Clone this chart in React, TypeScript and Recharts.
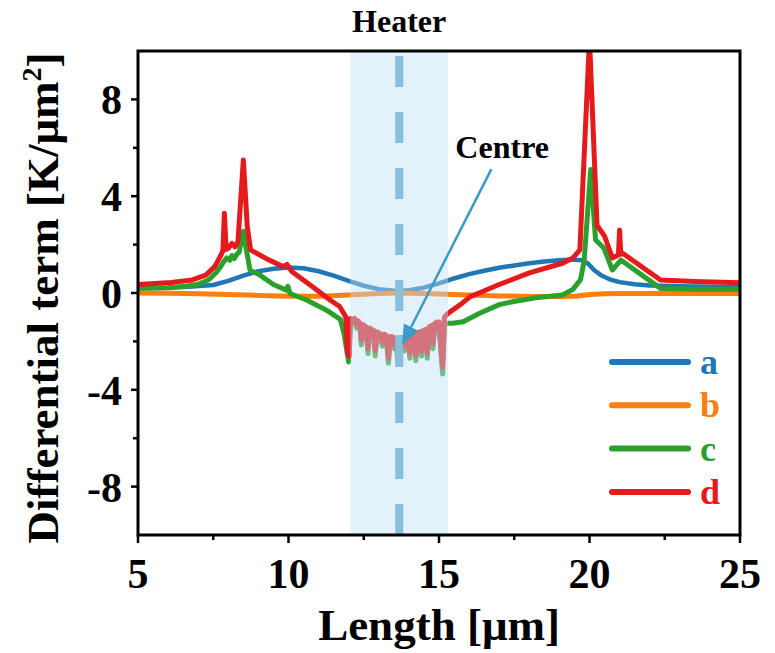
import React from 'react';
import { LineChart, Line, XAxis, YAxis, ReferenceArea, ReferenceLine, Legend } from 'recharts';

const SERIF = 'Liberation Serif, DejaVu Serif, serif';

// Series a
const aLength = [5, 6, 6.8, 7.5, 8, 8.5, 9, 9.5, 10, 10.5, 11, 11.5, 12, 12.5, 13, 13.5, 13.7, 14, 14.5, 15, 15.5, 16, 16.5, 17, 17.5, 18, 18.5, 19, 19.4, 19.75, 19.95, 20.15, 20.4, 20.7, 21, 21.5, 22, 23, 24, 25];
const aValue = [0.2, 0.22, 0.27, 0.33, 0.5, 0.72, 0.9, 1.0, 1.05, 1.02, 0.9, 0.72, 0.5, 0.3, 0.16, 0.09, 0.08, 0.11, 0.22, 0.4, 0.6, 0.78, 0.92, 1.04, 1.14, 1.23, 1.3, 1.35, 1.38, 1.35, 1.22, 0.95, 0.72, 0.55, 0.45, 0.36, 0.31, 0.28, 0.26, 0.25];

// Series b
const bLength = [5, 6, 7, 8, 9, 10, 11, 12, 12.5, 13, 13.7, 14.5, 15, 16, 17, 18, 19, 19.6, 20, 20.5, 21, 22, 23, 24, 25];
const bValue = [0, -0.01, -0.03, -0.06, -0.1, -0.13, -0.13, -0.08, -0.05, -0.02, 0, -0.02, -0.04, -0.08, -0.12, -0.14, -0.14, -0.12, -0.06, -0.03, -0.02, -0.02, -0.02, -0.02, -0.02];

// Series c
const cLength = [
  5, 6, 6.6, 7, 7.35, 7.6, 7.75, 7.85, 7.95, 8.05, 8.12, 8.2, 8.28, 8.36, 8.5, 8.62, 8.72, 9.05, 9.5, 9.93, 9.98, 10.05, 10.6, 11.25, 11.72, 11.84, 12.0,
  12.06, 12.12, 12.2, 12.26, 12.31, 12.37, 12.42, 12.47, 12.53, 12.58, 12.64, 12.7, 12.76, 12.83, 12.88, 12.94, 13.0, 13.06, 13.12, 13.18, 13.25, 13.32, 13.38, 13.45, 13.52, 13.58, 13.64, 13.7, 13.78, 13.84, 13.9, 13.97, 14.03, 14.1, 14.17, 14.23, 14.3, 14.36, 14.42, 14.48, 14.55, 14.61, 14.67, 14.74, 14.8, 14.86, 14.92, 15.0, 15.06, 15.12, 15.18, 15.3,
  15.45, 15.8, 16.35, 17.0, 17.45, 18.2, 19.1, 19.45, 19.7, 19.82, 20.04, 20.2, 20.48, 20.76, 21.04, 22.36, 23.5, 25,
];
const cValue = [
  0.2, 0.22, 0.28, 0.36, 0.55, 0.85, 1.1, 1.3, 1.45, 1.35, 1.55, 1.42, 1.6, 1.68, 2.55, 1.65, 0.95, 0.74, 0.35, 0.12, 0.28, -0.02, -0.29, -0.7, -1.09, -1.65, -2.85,
  -1.15, -1.2, -1.15, -1.45, -1.3, -1.4, -2.15, -1.45, -1.5, -1.55, -2.5, -1.6, -1.65, -1.7, -2.6, -1.75, -1.8, -1.85, -2.2, -1.85, -1.9, -2.9, -1.95, -1.95, -2.3, -2.0, -2.95, -2.0, -2.0, -2.4, -1.95, -1.9, -2.7, -1.85, -1.85, -2.8, -1.8, -1.75, -2.6, -1.7, -1.65, -2.7, -1.55, -1.5, -2.3, -1.4, -1.35, -1.35, -2.4, -3.35, -1.3, -1.25,
  -1.25, -1.19, -0.84, -0.48, -0.36, -0.2, -0.08, 0.15, 0.55, 1.3, 5.1, 2.2, 1.85, 0.95, 1.36, 0.19, 0.16, 0.15,
];

// Series d
const dLength = [
  5, 6.1, 6.8, 7.25, 7.55, 7.75, 7.82, 7.87, 7.93, 8.0, 8.12, 8.22, 8.32, 8.5, 8.63, 8.74, 9.25, 9.82, 9.95, 10.12, 10.8, 11.38, 11.7, 11.9, 11.96, 12.02,
  12.06, 12.12, 12.2, 12.26, 12.31, 12.37, 12.42, 12.47, 12.53, 12.58, 12.64, 12.7, 12.76, 12.83, 12.88, 12.94, 13.0, 13.06, 13.12, 13.18, 13.25, 13.32, 13.38, 13.45, 13.52, 13.58, 13.64, 13.7, 13.78, 13.84, 13.9, 13.97, 14.03, 14.1, 14.17, 14.23, 14.3, 14.36, 14.42, 14.48, 14.55, 14.61, 14.67, 14.74, 14.8, 14.86, 14.92, 15.0, 15.06, 15.12, 15.18, 15.25,
  15.38, 15.76, 16.04, 16.37, 17.0, 18.0, 19.1, 19.45, 19.68, 20.0, 20.25, 20.5, 20.76, 20.96, 21.0, 21.04, 21.1, 22.36, 23.5, 25,
];
const dValue = [
  0.35, 0.43, 0.54, 0.74, 1.09, 1.55, 1.75, 3.3, 1.8, 1.85, 2.05, 1.91, 2.1, 5.5, 2.74, 1.78, 1.43, 1.09, 1.18, 0.88, 0.26, -0.29, -0.56, -0.98, -2.5, -2.6,
  -1.05, -1.1, -1.05, -1.3, -1.15, -1.25, -1.95, -1.3, -1.35, -1.4, -2.3, -1.45, -1.5, -1.55, -2.4, -1.6, -1.65, -1.7, -2.05, -1.7, -1.75, -2.7, -1.8, -1.8, -2.15, -1.85, -2.8, -1.85, -1.85, -2.25, -1.8, -1.75, -2.5, -1.7, -1.7, -2.6, -1.65, -1.6, -2.4, -1.55, -1.5, -2.5, -1.4, -1.35, -2.1, -1.25, -1.2, -1.2, -2.2, -3.05, -1.0, -0.9,
  -0.77, -0.43, -0.15, 0.02, 0.35, 0.83, 1.23, 1.45, 1.78, 10.5, 2.8, 2.35, 1.45, 1.57, 2.6, 1.6, 1.64, 0.54, 0.48, 0.42,
];

const seriesNames = ['a', 'b', 'c', 'd'];
const seriesColors = ['#1f77b4', '#ff7f0e', '#2ca02c', '#e41a1c'];
const seriesLengths = [aLength, bLength, cLength, dLength];
const seriesValues = [aValue, bValue, cValue, dValue];

const xTicks = [5, 7.5, 10, 12.5, 15, 17.5, 20, 22.5, 25];
const yTicks = [-8, -6, -4, -2, 0, 2, 4, 6, 8];
const xDomain = [5, 25];
const yDomain = [-10, 10];

const heaterSpan = [12.05, 15.3];
const heaterCentre = 13.68;
const arrowFrom = { x: 16.74, y: 5.12 };
const arrowTo = { x: 13.77, y: -2.15 };

const toPoints = (xs: number[], ys: number[]) => xs.map((x, i) => ({ x, y: ys[i] }));

const textStyle = { fontFamily: SERIF, fontWeight: 700 } as React.CSSProperties;

const XTick = (props: any) => {
  const { x, y, payload } = props;
  const v = payload.value;
  const major = v % 5 === 0;
  return (
    <g>
      <line x1={x} x2={x} y1={y} y2={y + (major ? 8 : 5)} stroke="#000" strokeWidth={2.5} />
      {major && (
        <text x={x} y={y + 53} textAnchor="middle" style={{ ...textStyle, fontSize: 42 }} fill="#000">
          {v}
        </text>
      )}
    </g>
  );
};

const YTick = (props: any) => {
  const { x, y, payload } = props;
  const v = payload.value;
  const major = v % 4 === 0;
  return (
    <g>
      <line x1={x} x2={x - (major ? 7 : 5)} y1={y} y2={y} stroke="#000" strokeWidth={2.5} />
      {major && (
        <text x={x - 16} y={y + 15} textAnchor="end" style={{ ...textStyle, fontSize: 42 }} fill="#000">
          {v}
        </text>
      )}
    </g>
  );
};

const YLabel = (props: any) => {
  const vb = props.viewBox || { x: 0, y: 51, width: 138, height: 484 };
  const cx = 58;
  const cy = vb.y + vb.height / 2 + 5;
  return (
    <text
      x={cx}
      y={cy}
      transform={`rotate(-90, ${cx}, ${cy})`}
      textAnchor="middle"
      style={{ ...textStyle, fontSize: 45 }}
      fill="#000"
    >
      Differential term [K/μm
      <tspan dy={-17} style={{ fontSize: 28 }}>2</tspan>
      <tspan dy={17}>]</tspan>
    </text>
  );
};

const XLabel = (props: any) => {
  const vb = props.viewBox || { x: 138, y: 535, width: 602, height: 118 };
  return (
    <text
      x={vb.x + vb.width / 2}
      y={vb.y + 105}
      textAnchor="middle"
      style={{ ...textStyle, fontSize: 45 }}
      fill="#000"
    >
      Length [μm]
    </text>
  );
};

const HeaterLabel = (props: any) => {
  const vb = props.viewBox;
  if (!vb) return null;
  return (
    <text x={vb.x + vb.width / 2} y={vb.y - 19} textAnchor="middle" style={{ ...textStyle, fontSize: 32 }} fill="#000">
      Heater
    </text>
  );
};

const ArrowShape = (props: any) => {
  const { x1, y1, x2, y2 } = props;
  if ([x1, y1, x2, y2].some((v) => typeof v !== 'number' || isNaN(v))) return null;
  const dx = x2 - x1;
  const dy = y2 - y1;
  const len = Math.sqrt(dx * dx + dy * dy);
  const ux = dx / len;
  const uy = dy / len;
  const headLen = 20;
  const headHalf = 8;
  const bx = x2 - ux * headLen;
  const by = y2 - uy * headLen;
  const color = '#3a9bc8';
  return (
    <g>
      <line x1={x1} y1={y1} x2={bx} y2={by} stroke={color} strokeWidth={2.5} />
      <polygon
        points={`${x2},${y2} ${bx - uy * headHalf},${by + ux * headHalf} ${bx + uy * headHalf},${by - ux * headHalf}`}
        fill={color}
      />
      <text x={x1 - 36} y={y1 - 11} style={{ ...textStyle, fontSize: 32 }} fill="#000">
        Centre
      </text>
    </g>
  );
};

const LegendBox = (props: any) => {
  const items = (props.payload || []) as any[];
  return (
    <svg width={150} height={180} style={{ display: 'block' }}>
      {items.map((p, i) => {
        const y = 22 + i * 43.3;
        return (
          <g key={String(p.value)}>
            <line x1={15} x2={91} y1={y} y2={y} stroke={p.color} strokeWidth={6} strokeLinecap="round" />
            <text x={103} y={y + 12} fill={p.color} style={{ ...textStyle, fontSize: 36 }}>
              {p.value}
            </text>
          </g>
        );
      })}
    </svg>
  );
};

export default function App() {
  return (
    <div style={{ position: 'absolute', left: 0, top: 0, width: 775, height: 653, background: '#fff', fontFamily: SERIF }}>
      <LineChart width={775} height={653} margin={{ top: 51, right: 35, bottom: 0, left: 0 }}>
        <XAxis
          type="number"
          dataKey="x"
          domain={xDomain}
          ticks={xTicks}
          tick={<XTick />}
          tickSize={0}
          tickMargin={0}
          tickLine={false}
          axisLine={false}
          height={118}
          interval={0}
          allowDataOverflow
          label={<XLabel />}
        />
        <YAxis
          type="number"
          domain={yDomain}
          ticks={yTicks}
          tick={<YTick />}
          tickSize={0}
          tickMargin={0}
          tickLine={false}
          axisLine={false}
          width={138}
          interval={0}
          allowDataOverflow
          label={<YLabel />}
        />
        {seriesNames.map((name, i) => (
          <Line
            key={name}
            name={name}
            data={toPoints(seriesLengths[i], seriesValues[i])}
            dataKey="y"
            type="linear"
            stroke={seriesColors[i]}
            strokeWidth={i === 0 ? 4.5 : 5}
            strokeLinejoin="round"
            dot={false}
            activeDot={false}
            isAnimationActive={false}
          />
        ))}
        <ReferenceArea
          x1={heaterSpan[0]}
          x2={heaterSpan[1]}
          y1={yDomain[0]}
          y2={yDomain[1]}
          fill="#c1e0f6"
          fillOpacity={0.45}
          stroke="none"
          zIndex={450}
          label={<HeaterLabel />}
        />
        <ReferenceLine
          x={heaterCentre}
          stroke="#86c0dd"
          strokeWidth={8}
          strokeDasharray="31 25"
          zIndex={460}
        />
        <ReferenceLine
          segment={[arrowFrom, arrowTo]}
          shape={(p: any) => <ArrowShape {...p} />}
          zIndex={470}
        />
        <ReferenceArea
          x1={xDomain[0]}
          x2={xDomain[1]}
          y1={yDomain[0]}
          y2={yDomain[1]}
          fill="none"
          stroke="#000"
          strokeWidth={3}
          zIndex={480}
        />
        <Legend
          layout="vertical"
          align="center"
          verticalAlign="middle"
          wrapperStyle={{ left: 597, top: 340, width: 150, height: 180 }}
          content={<LegendBox />}
        />
      </LineChart>
    </div>
  );
}
